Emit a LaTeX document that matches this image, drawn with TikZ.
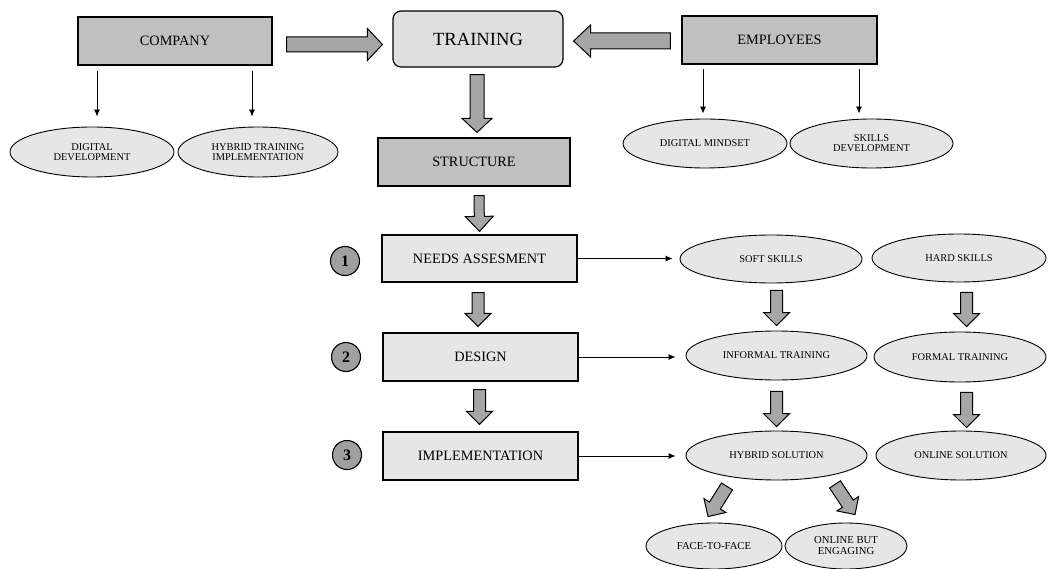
\documentclass[tikz,border=0pt]{standalone}
\usepackage{fontspec}
\setmainfont{Liberation Serif}
\usetikzlibrary{shapes.geometric,arrows.meta,calc}
\definecolor{boxdark}{RGB}{192,192,192}
\definecolor{boxlight}{RGB}{230,230,230}
\definecolor{elllight}{RGB}{230,230,230}
\definecolor{arrgray}{RGB}{166,166,166}
\definecolor{numgray}{RGB}{160,160,160}
\tikzset{
  darkbox/.style={draw, line width=1.2pt, fill=boxdark, inner sep=0pt, font=\fontsize{14.3}{16}\selectfont},
  lightbox/.style={draw, line width=1.2pt, fill=boxlight, inner sep=0pt, font=\fontsize{14.3}{16}\selectfont},
  ell/.style={ellipse, draw, line width=0.9pt, fill=elllight, inner sep=0pt, align=center, font=\fontsize{10.4}{10}\selectfont},
  numc/.style={circle, draw, line width=1.1pt, fill=numgray, inner sep=0pt, minimum size=29pt, font=\bfseries\fontsize{16}{16}\selectfont},
  thinarr/.style={line width=0.9pt, -{Latex[length=7pt,width=6pt]}},
  barrow/.style={draw=black, line width=1pt, fill=arrgray, line join=miter},
}
% block arrow: #1 start, #2 end, #3 body half width, #4 head half width, #5 head length
\newcommand\blockarrow[5]{%
  \draw[barrow] let \p1=($(#2)-(#1)$), \n1={atan2(\y1,\x1)}, \n2={veclen(\x1,\y1)} in
    [shift={(#1)}, rotate=\n1] (0,#3) -- ({\n2-#5},#3) -- ({\n2-#5},#4) -- ({\n2},0)
    -- ({\n2-#5},-#4) -- ({\n2-#5},-#3) -- (0,-#3) -- cycle;}
\begin{document}
\begin{tikzpicture}[x=1pt,y=-1pt]
\path[use as bounding box] (0,0) rectangle (1048,569);

% top row
\node[darkbox, minimum width=194pt, minimum height=48pt] (company) at (175,41) {COMPANY};
\node[lightbox, rounded corners=8pt, minimum width=170pt, minimum height=56pt, fill=boxlight!97!black, font=\fontsize{18.6}{20}\selectfont] (training) at (478,39) {TRAINING};
\node[darkbox, minimum width=195pt, minimum height=48pt] (employees) at (779.5,40) {EMPLOYEES};

\node[ell, minimum width=164pt, minimum height=50pt] (digdev) at (92,152) {DIGITAL\\DEVELOPMENT};
\node[ell, minimum width=160pt, minimum height=50pt] (hybimpl) at (258,152) {HYBRID TRAINING\\IMPLEMENTATION};
\node[ell, minimum width=164pt, minimum height=49pt] (digmind) at (705,143.5) {DIGITAL MINDSET};
\node[ell, minimum width=163pt, minimum height=49pt] (skills) at (871.5,143.5) {SKILLS\\DEVELOPMENT};

\node[darkbox, minimum width=192pt, minimum height=48pt] (structure) at (474,162) {STRUCTURE};

% steps
\node[lightbox, minimum width=195pt, minimum height=47pt] (needs) at (479.5,258.5) {NEEDS ASSESMENT};
\node[lightbox, minimum width=195pt, minimum height=48pt] (design) at (480.5,357) {DESIGN};
\node[lightbox, minimum width=195pt, minimum height=48pt] (impl) at (480.5,456) {IMPLEMENTATION};
\node[numc] (c1) at (345,261) {1};
\node[numc] (c2) at (346,357) {2};
\node[numc] (c3) at (347,455) {3};

% right side
\node[ell, minimum width=182pt, minimum height=48pt] (soft) at (771,259) {SOFT SKILLS};
\node[ell, minimum width=174pt, minimum height=48pt] (hard) at (959,258) {HARD SKILLS};
\node[ell, minimum width=181pt, minimum height=49pt] (informal) at (776.5,355.5) {INFORMAL TRAINING};
\node[ell, minimum width=172pt, minimum height=50pt] (formal) at (960,357) {FORMAL TRAINING};
\node[ell, minimum width=181pt, minimum height=49pt] (hybrid) at (776.5,455.5) {HYBRID SOLUTION};
\node[ell, minimum width=170pt, minimum height=49pt] (online) at (961,455.5) {ONLINE SOLUTION};
\node[ell, minimum width=136pt, minimum height=46pt, font=\fontsize{10.7}{11}\selectfont] (face) at (714,546) {FACE-TO-FACE};
\node[ell, minimum width=122pt, minimum height=46pt, font=\fontsize{10.7}{11}\selectfont] (engaging) at (846,546) {ONLINE BUT\\ENGAGING};

% thin arrows
\draw[thinarr] ([xshift=-78pt,yshift=-5pt]company.south) -- ([xshift=5pt,yshift=10pt]digdev.north);
\draw[thinarr] ([xshift=77pt,yshift=-5pt]company.south) -- ([xshift=-6pt,yshift=10pt]hybimpl.north);
\draw[thinarr] ([xshift=-76.5pt,yshift=-4pt]employees.south) -- ([xshift=-2pt,yshift=5pt]digmind.north);
\draw[thinarr] ([xshift=79.5pt,yshift=-4pt]employees.south) -- ([xshift=-12.5pt,yshift=5pt]skills.north);
\draw[thinarr] (needs.east) -- ([xshift=-7pt]soft.west |- needs.east);
\draw[thinarr] (design.east) -- ([xshift=-10pt]informal.west |- design.east);
\draw[thinarr] (impl.east) -- ([xshift=-10pt]hybrid.west |- impl.east);

% block arrows
\blockarrow{[xshift=14pt,yshift=-3.5pt]company.east}{[xshift=-10pt,yshift=-5.5pt]training.west}{7.5}{16}{15}
\blockarrow{[xshift=-11pt,yshift=-1pt]employees.west}{[xshift=10pt,yshift=-2pt]training.east}{8}{16}{17}
\blockarrow{[xshift=-1pt,yshift=-7pt]training.south}{[xshift=3pt,yshift=5pt]structure.north}{7}{15}{14}
\blockarrow{[xshift=5pt,yshift=-9pt]structure.south}{[yshift=3pt]needs.north}{5}{14}{15}
\blockarrow{[xshift=-1.5pt,yshift=-10pt]needs.south}{[xshift=-2.5pt,yshift=6pt]design.north}{6}{13}{13}
\blockarrow{[xshift=-1pt,yshift=-8pt]design.south}{[xshift=-1pt,yshift=7pt]impl.north}{6}{13}{13}
\blockarrow{[xshift=5.5pt,yshift=-7pt]soft.south}{[yshift=5pt]informal.north}{6}{13}{13}
\blockarrow{[xshift=7.5pt,yshift=-10pt]hard.south}{[xshift=6.5pt,yshift=5pt]formal.north}{6}{13}{13}
\blockarrow{[yshift=-11pt]informal.south}{[yshift=4pt]hybrid.north}{6}{13}{13}
\blockarrow{[xshift=6.5pt,yshift=-10pt]formal.south}{[xshift=5.5pt,yshift=3pt]online.north}{6}{13}{13}
\blockarrow{[xshift=-49.5pt,yshift=-6pt]hybrid.south}{[xshift=-6pt,yshift=6pt]face.north}{6.5}{13}{13}
\blockarrow{[xshift=58.5pt,yshift=-4pt]hybrid.south}{[xshift=9pt,yshift=8pt]engaging.north}{6.5}{13}{13}
\end{tikzpicture}
\end{document}
